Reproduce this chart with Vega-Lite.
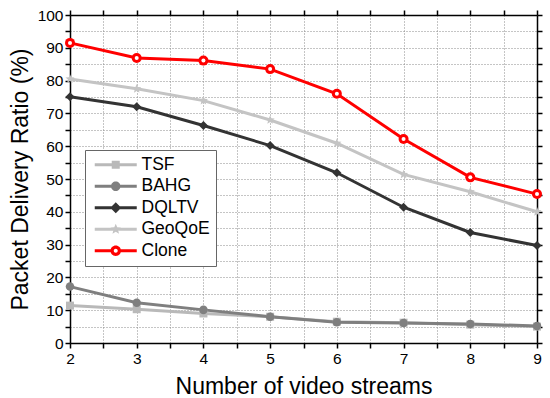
{
  "$schema": "https://vega.github.io/schema/vega-lite/v6.json",
  "width": 467,
  "height": 328,
  "autosize": "none",
  "padding": {"left": 70, "top": 15, "right": 13, "bottom": 55},
  "config": {
    "font": "Liberation Sans",
    "view": {"stroke": null},
    "axis": {
      "domainColor": "#000000",
      "domainWidth": 1.5,
      "tickColor": "#000000",
      "tickWidth": 1.5,
      "labelColor": "#000000",
      "labelFontSize": 15.5,
      "labelFont": "Liberation Sans",
      "titleFont": "Liberation Sans",
      "titleFontSize": 23,
      "titleFontWeight": "normal",
      "titleColor": "#000000",
      "gridColor": "#8a8a8a",
      "gridDash": [1, 2],
      "gridWidth": 1,
      "labelOverlap": false,
      "labelFlush": false
    }
  },
  "data": {
    "values": [
      {"n": 2, "series": "TSF", "v": 11.4}, {"n": 3, "series": "TSF", "v": 10.3}, {"n": 4, "series": "TSF", "v": 9.0}, {"n": 5, "series": "TSF", "v": 8.0},
      {"n": 6, "series": "TSF", "v": 6.5}, {"n": 7, "series": "TSF", "v": 6.2}, {"n": 8, "series": "TSF", "v": 5.6}, {"n": 9, "series": "TSF", "v": 5.0},
      {"n": 2, "series": "BAHG", "v": 17.2}, {"n": 3, "series": "BAHG", "v": 12.3}, {"n": 4, "series": "BAHG", "v": 10.1}, {"n": 5, "series": "BAHG", "v": 8.0},
      {"n": 6, "series": "BAHG", "v": 6.3}, {"n": 7, "series": "BAHG", "v": 6.1}, {"n": 8, "series": "BAHG", "v": 5.8}, {"n": 9, "series": "BAHG", "v": 5.2},
      {"n": 2, "series": "DQLTV", "v": 75.1}, {"n": 3, "series": "DQLTV", "v": 72.0}, {"n": 4, "series": "DQLTV", "v": 66.3}, {"n": 5, "series": "DQLTV", "v": 60.2},
      {"n": 6, "series": "DQLTV", "v": 51.9}, {"n": 7, "series": "DQLTV", "v": 41.4}, {"n": 8, "series": "DQLTV", "v": 33.7}, {"n": 9, "series": "DQLTV", "v": 29.7},
      {"n": 2, "series": "GeoQoE", "v": 80.5}, {"n": 3, "series": "GeoQoE", "v": 77.5}, {"n": 4, "series": "GeoQoE", "v": 73.9}, {"n": 5, "series": "GeoQoE", "v": 68.0},
      {"n": 6, "series": "GeoQoE", "v": 60.9}, {"n": 7, "series": "GeoQoE", "v": 51.4}, {"n": 8, "series": "GeoQoE", "v": 46.1}, {"n": 9, "series": "GeoQoE", "v": 40.0},
      {"n": 2, "series": "Clone", "v": 91.5}, {"n": 3, "series": "Clone", "v": 86.9}, {"n": 4, "series": "Clone", "v": 86.1}, {"n": 5, "series": "Clone", "v": 83.5},
      {"n": 6, "series": "Clone", "v": 76.0}, {"n": 7, "series": "Clone", "v": 62.2}, {"n": 8, "series": "Clone", "v": 50.5}, {"n": 9, "series": "Clone", "v": 45.4}
    ]
  },
  "layer": [
    {
      "mark": {"type": "line", "strokeWidth": 3},
      "encoding": {
        "x": {
          "field": "n", "type": "quantitative",
          "scale": {"domain": [2, 9], "nice": false, "zero": false},
          "axis": {
            "orient": "bottom",
            "title": "Number of video streams",
            "values": [2, 2.5, 3, 3.5, 4, 4.5, 5, 5.5, 6, 6.5, 7, 7.5, 8, 8.5, 9],
            "labelExpr": "datum.value % 1 === 0 ? format(datum.value, 'd') : ''",
            "grid": true,
            "tickSize": 5,
            "labelPadding": 3,
            "titlePadding": 9,
            "encode": {"ticks": {"update": {"y2": {"signal": "datum.value % 1 === 0 ? 5 : -3"}}}}
          }
        },
        "y": {
          "field": "v", "type": "quantitative",
          "scale": {"domain": [0, 100], "nice": false},
          "axis": {
            "orient": "left",
            "title": "Packet Delivery Ratio (%)",
            "values": [0, 5, 10, 15, 20, 25, 30, 35, 40, 45, 50, 55, 60, 65, 70, 75, 80, 85, 90, 95, 100],
            "labelExpr": "datum.value % 10 === 0 ? datum.label : ''",
            "grid": true,
            "tickSize": 5,
            "labelPadding": 2,
            "titlePadding": 5,
            "encode": {"ticks": {"update": {"x2": {"signal": "datum.value % 10 === 0 ? -5 : 3"}}}}
          }
        },
        "color": {
          "field": "series", "type": "nominal",
          "scale": {"domain": ["TSF", "BAHG", "DQLTV", "GeoQoE", "Clone"], "range": ["#b9b9b9", "#7f7f7f", "#333333", "#c4c4c4", "#ff0000"]},
          "legend": {
            "title": null,
            "orient": "none",
            "legendX": 15,
            "legendY": 135,
            "padding": 6,
            "strokeColor": "#666666",
            "fillColor": "#ffffff",
            "labelFont": "Liberation Sans",
            "labelFontSize": 17.5,
            "labelColor": "#000000",
            "symbolSize": 100,
            "symbolOffset": 16,
            "labelOffset": 17,
            "rowPadding": 2.5,
            "encode": {
              "symbols": {
                "update": {
                  "shape": {"signal": "datum.value === 'TSF' ? 'M-4.2,-0.3H-0.5V0.3H-4.2Z M0.5,-0.3H4.2V0.3H0.5Z M-0.8,-0.8H0.8V0.8H-0.8Z' : datum.value === 'BAHG' ? 'M-4.2,-0.3H-0.5V0.3H-4.2Z M0.5,-0.3H4.2V0.3H0.5Z M-0.95,0A0.95,0.95 0 1,1 0.95,0A0.95,0.95 0 1,1 -0.95,0Z' : datum.value === 'DQLTV' ? 'M-4.2,-0.3H-0.5V0.3H-4.2Z M0.5,-0.3H4.2V0.3H0.5Z M0,-1.1L1.1,0L0,1.1L-1.1,0Z' : datum.value === 'GeoQoE' ? 'M-4.2,-0.3H-0.5V0.3H-4.2Z M0.5,-0.3H4.2V0.3H0.5Z M0,-1.1L0.29,-0.4L1.05,-0.34L0.47,0.15L0.65,0.89L0,0.5L-0.65,0.89L-0.47,0.15L-1.05,-0.34L-0.29,-0.4Z' : 'M-4.2,-0.3H-0.6V0.3H-4.2Z M0.6,-0.3H4.2V0.3H0.6Z M-1.05,0A1.05,1.05 0 1,1 1.05,0A1.05,1.05 0 1,1 -1.05,0Z M-0.4,0A0.4,0.4 0 1,0 0.4,0A0.4,0.4 0 1,0 -0.4,0Z'"},
                  "fill": {"signal": "datum.value === 'TSF' ? '#b9b9b9' : datum.value === 'BAHG' ? '#7f7f7f' : datum.value === 'DQLTV' ? '#333333' : datum.value === 'GeoQoE' ? '#c4c4c4' : '#ff0000'"},
                  "fillOpacity": {"value": 1},
                  "opacity": {"value": 1},
                  "strokeWidth": {"value": 0}
                }
              }
            }
          }
        }
      }
    },
    {
      "mark": {"type": "point", "filled": true, "opacity": 1},
      "encoding": {
        "x": {
          "field": "n", "type": "quantitative",
          "scale": {"domain": [2, 9], "nice": false, "zero": false},
          "axis": {
            "orient": "top", "title": null, "labels": false, "grid": false, "tickSize": 5,
            "values": [2, 2.5, 3, 3.5, 4, 4.5, 5, 5.5, 6, 6.5, 7, 7.5, 8, 8.5, 9],
            "encode": {"ticks": {"update": {"y2": {"signal": "datum.value % 1 === 0 ? 6 : 4"}}}}
          }
        },
        "y": {
          "field": "v", "type": "quantitative",
          "scale": {"domain": [0, 100], "nice": false},
          "axis": {
            "orient": "right", "title": null, "labels": false, "grid": false, "tickSize": 5,
            "values": [0, 5, 10, 15, 20, 25, 30, 35, 40, 45, 50, 55, 60, 65, 70, 75, 80, 85, 90, 95, 100],
            "encode": {"ticks": {"update": {"x2": {"signal": "datum.value % 10 === 0 ? -7 : -4"}}}}
          }
        },
        "color": {
          "field": "series", "type": "nominal",
          "scale": {"domain": ["TSF", "BAHG", "DQLTV", "GeoQoE", "Clone"], "range": ["#b9b9b9", "#7f7f7f", "#333333", "#c4c4c4", "#ff0000"]},
          "legend": null
        },
        "shape": {
          "field": "series", "type": "nominal",
          "scale": {"domain": ["TSF", "BAHG", "DQLTV", "GeoQoE", "Clone"], "range": ["square", "circle", "diamond", "M0,-1L0.264,-0.364L0.951,-0.309L0.428,0.139L0.588,0.809L0,0.45L-0.588,0.809L-0.428,0.139L-0.951,-0.309L-0.264,-0.364Z", "circle"]},
          "legend": null
        },
        "size": {
          "field": "series", "type": "nominal",
          "scale": {"domain": ["TSF", "BAHG", "DQLTV", "GeoQoE", "Clone"], "range": [64, 100, 110, 120, 121]},
          "legend": null
        }
      }
    },
    {
      "transform": [{"filter": "datum.series === 'Clone'"}],
      "mark": {"type": "point", "filled": true, "opacity": 1, "color": "#ffffff", "size": 16},
      "encoding": {
        "x": {"field": "n", "type": "quantitative", "scale": {"domain": [2, 9], "nice": false, "zero": false}, "axis": null},
        "y": {"field": "v", "type": "quantitative", "scale": {"domain": [0, 100], "nice": false}, "axis": null}
      }
    }
  ],
  "resolve": {"axis": {"x": "independent", "y": "independent"}, "legend": {"color": "independent", "shape": "independent", "size": "independent"}}
}
